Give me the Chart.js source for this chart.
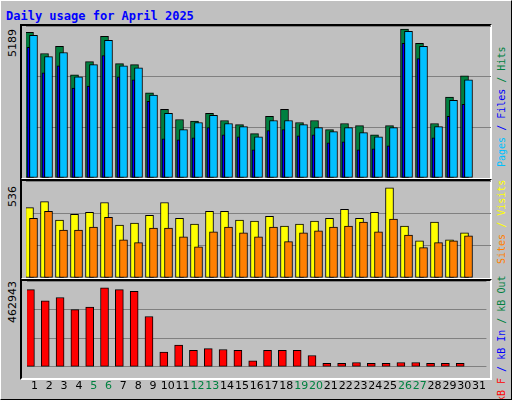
<!DOCTYPE html>
<html><head><meta charset="utf-8">
<script src="https://cdn.jsdelivr.net/npm/chart.js@4/dist/chart.umd.min.js"></script>
<style>
body{margin:0;background:#fff}
#wrap{position:absolute;left:0;top:0;width:510px;height:398px;background:#C0C0C0;border-left:1px solid #fff;border-top:1px solid #fff;border-right:1px solid #000;border-bottom:1px solid #000;overflow:hidden;font-family:"DejaVu Sans Mono",monospace}
.t{position:absolute;font-size:12px;white-space:nowrap}
.rot{position:absolute;transform-origin:0 0;transform:rotate(-90deg);white-space:nowrap;font-size:12px}
.frame{position:absolute;left:19px;width:472px;border-top:2px solid #000;border-left:2px solid #000;border-right:2px solid #fff;border-bottom:2px solid #fff;box-sizing:border-box}
canvas{position:absolute}
</style></head><body>
<div id="wrap">
<div class="t" style="left:5px;top:8px;color:#0000FF;font-weight:bold">Daily usage for April 2025</div>
<div class="frame" style="top:23px;height:156px"></div>
<div class="frame" style="top:178px;height:101px"></div>
<div class="frame" style="top:278px;height:101px"></div>
<div style="position:absolute;left:25px;top:25px;width:465px;height:152px"><canvas id="c1"></canvas></div>
<div style="position:absolute;left:25px;top:180px;width:465px;height:97px"><canvas id="c2"></canvas></div>
<div style="position:absolute;left:25px;top:280px;width:465px;height:117px"><canvas id="c3"></canvas></div>
<div class="rot" id="l1" style="left:5px;top:56px;font-family:'DejaVu Sans';font-size:11px"></div>
<div class="rot" id="l2" style="left:5px;top:206px;font-family:'DejaVu Sans';font-size:11px"></div>
<div class="rot" id="l3" style="left:5px;top:322px;font-family:'DejaVu Sans';font-size:11px"></div>
<div class="rot" style="left:495px;top:166px;font-size:10px"><span style="color:#00C0FF">Pages</span> <span style="color:#0000FF">/ Files</span> <span style="color:#008040">/ Hits</span></div>
<div class="rot" style="left:495px;top:263px;font-size:10px"><span style="color:#FF8000">Sites</span> <span style="color:#FFFF00">/ Visits</span></div>
<div class="rot" style="left:495px;top:401px;font-size:10px"><span style="color:#FF0000">kB F</span> <span style="color:#0000FF">/ kB In</span> <span style="color:#008040">/ kB Out</span></div>
</div>
<script>
const days=["1","2","3","4","5","6","7","8","9","10","11","12","13","14","15","16","17","18","19","20","21","22","23","24","25","26","27","28","29","30","31"];
const weekendDays=["5","6","12","13","19","20","26","27"];
const hits=[5083,4340,4587,3597,4057,4941,3986,3951,2972,2394,2040,1981,2252,2005,1863,1545,2146,2394,1934,2005,1686,1899,1828,1509,1828,5189,4694,1899,2819,3561,null];
const files=[4977,4234,4375,3526,3951,4800,3915,3845,2889,2252,1686,1934,2182,1899,1793,1439,2005,2005,1863,1757,1616,1757,1580,1439,1757,5118,4587,1793,2712,3420,null];
const pages=[4552,3668,3915,3137,3208,4269,3526,3420,2677,1368,1333,1403,1757,1509,1439,979,1651,1686,1474,1509,1226,1262,979,1014,1120,4694,4163,1403,2146,2571,null];
const visits=[419,454,344,379,390,449,315,326,373,449,355,320,396,396,344,338,367,309,320,338,355,408,355,390,536,309,221,332,227,268,null];
const sites=[355,396,285,285,303,361,227,210,297,297,245,186,274,303,268,245,303,216,268,280,303,309,332,274,350,256,181,210,221,251,null];
const kbytes=[452779,386642,406992,335768,351031,462943,452779,442604,295069,86486,127185,96661,106835,101748,96661,35612,96661,96661,96661,66136,20350,20350,25437,20350,20350,25437,25437,20350,20350,20350,null];

const maxOf=a=>Math.max(...a.filter(v=>v!=null));
document.getElementById('l1').textContent=maxOf(hits);
document.getElementById('l2').textContent=maxOf(visits);
document.getElementById('l3').textContent=maxOf(kbytes);

const shiftPlugin={id:'shift',afterDatasetsUpdate(chart){chart.data.datasets.forEach((ds,i)=>{const m=chart.getDatasetMeta(i);m.data.forEach(el=>{el.x+=ds.shift||0;});});}};
function mk(id,datasets,ymax,showX){
  return new Chart(document.getElementById(id),{type:'bar',data:{labels:days,datasets},
    plugins:[shiftPlugin],
    options:{responsive:true,maintainAspectRatio:false,animation:false,
      layout:{padding:0},
      plugins:{legend:{display:false},tooltip:{enabled:false}},
      datasets:{bar:{grouped:false,borderColor:'#000',borderWidth:1,borderSkipped:false}},
      scales:{
        x:{display:showX,offset:true,grid:{display:false},border:{display:false},
           ticks:{padding:5,autoSkip:false,maxRotation:0,font:{family:'DejaVu Sans',size:11},
             color:ctx=>weekendDays.includes(days[ctx.index])?'#008040':'#000'}},
        y:{min:0,max:ymax,afterBuildTicks:ax=>{ax.ticks=[0,1,2,3].map(k=>({value:ymax*k/3}));},
           ticks:{display:false},grid:{color:'#808080',drawTicks:false,lineWidth:1},border:{display:false}}
      }}});
}
mk('c1',[
  {data:hits,backgroundColor:'#008040',barThickness:8,shift:-4,order:3},
  {data:pages,backgroundColor:'#0000FF',barThickness:3,shift:-5,order:2},
  {data:files,backgroundColor:'#00C0FF',barThickness:8,shift:0,order:1}
],5300,false);
mk('c2',[
  {data:visits,backgroundColor:'#FFFF00',barThickness:8,shift:-4,order:2},
  {data:sites,backgroundColor:'#FF8000',barThickness:8,shift:0,order:1}
],577,false);
mk('c3',[
  {data:kbytes,backgroundColor:'#FF0000',barThickness:8,shift:-4,order:1}
],503640,true);
</script>
</body></html>
